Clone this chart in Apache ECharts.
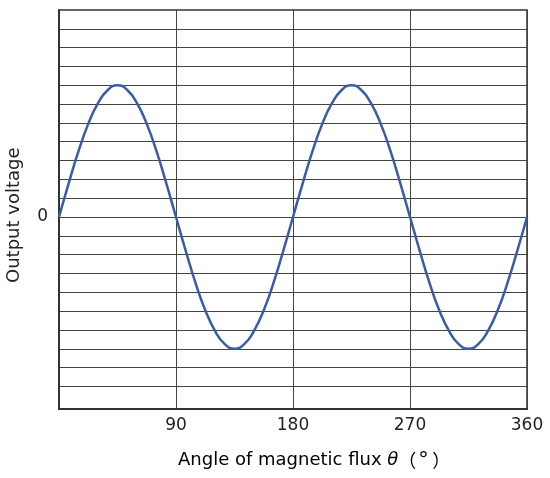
<!DOCTYPE html>
<html>
<head>
<meta charset="utf-8">
<script src="https://cdn.jsdelivr.net/npm/echarts@6/dist/echarts.min.js"></script>
<style>html,body{margin:0;padding:0;background:#fff;}#c{width:550px;height:478px;}</style>
</head>
<body>
<div id="c"></div>
<script>
// angle (degrees) and output voltage (grid units)
var angles = [0,7.5,15,22.5,30,37.5,45,52.5,60,67.5,75,82.5,90,
  97.5,105,112.5,120,127.5,135,142.5,150,157.5,165,172.5,180,
  187.5,195,202.5,210,217.5,225,232.5,240,247.5,255,262.5,270,
  277.5,285,292.5,300,307.5,315,322.5,330,337.5,345,352.5,360];
var voltage = [0,1.8,3.5,4.95,6.05,6.75,7,6.75,6.05,4.95,3.5,1.8,0,
  -1.8,-3.5,-4.95,-6.05,-6.75,-7,-6.75,-6.05,-4.95,-3.5,-1.8,0,
  1.8,3.5,4.95,6.05,6.75,7,6.75,6.05,4.95,3.5,1.8,0,
  -1.8,-3.5,-4.95,-6.05,-6.75,-7,-6.75,-6.05,-4.95,-3.5,-1.8,0];
var xTicks = [90,180,270,360];
var yTickLabels = [0];
var hGridValues = [-9,-8,-7,-6,-5,-4,-3,-2,-1,0,1,2,3,4,5,6,7,8,9,10];
var xTitleParts = ['Angle of magnetic flux ', 'θ', '（', '°', '）'];
var yTitle = 'Output voltage';

var chart = echarts.init(document.getElementById('c'), null, {renderer:'canvas'});
var font = 'DejaVu Sans';
chart.setOption({
  animation:false,
  grid:{left:59,right:23,top:10,bottom:69,show:true,borderColor:'#333',borderWidth:1.5,backgroundColor:'transparent'},
  xAxis:{
    type:'value',min:0,max:360,interval:90,
    axisLine:{show:true,onZero:false,lineStyle:{color:'#333',width:2}},
    axisTick:{show:false},
    axisLabel:{color:'#222',fontSize:17,fontFamily:font,margin:8,
      formatter:function(v){return xTicks.indexOf(v)>=0?String(v):'';}},
    splitLine:{show:true,lineStyle:{color:'#444',width:1}}
  },
  yAxis:{
    type:'value',min:-10.2,max:11,
    axisLine:{show:true,onZero:false,lineStyle:{color:'#333',width:2}},
    axisTick:{show:false},
    axisLabel:{show:true,customValues:yTickLabels,color:'#222',fontSize:17,fontFamily:font,margin:11},
    splitLine:{show:false}
  },
  graphic:[
    {type:'text',left:178,top:451,style:{
      text:'{a|'+xTitleParts[0]+'}{t|'+xTitleParts[1]+'}{p|'+xTitleParts[2]+'}{d|'+xTitleParts[3]+'}{p|'+xTitleParts[4]+'}',
      rich:{
        a:{fontSize:18,fontFamily:font,color:'#222'},
        t:{fontSize:18,fontFamily:font,fontStyle:'italic',color:'#222'},
        p:{fontSize:18,fontFamily:'Noto Sans CJK JP',color:'#222'},
        d:{fontSize:21,fontFamily:font,color:'#222',width:14,padding:[4,0,0,2]}
      }}},
    {type:'text',rotation:Math.PI/2,x:5,y:283,style:{text:yTitle,fontSize:18,fontFamily:font,fill:'#222'}}
  ],
  series:[
    {type:'line',data:[],z:1,silent:true,
      markLine:{silent:true,symbol:'none',animation:false,label:{show:false},
        lineStyle:{color:'#444',width:1,type:'solid'},
        data:hGridValues.map(function(v){return {yAxis:v};})}},
    {type:'line',z:5,smooth:true,symbol:'none',
      data:angles.map(function(a,i){return [a,voltage[i]];}),
      lineStyle:{color:'#3a5ca8',width:2.5}}
  ]
});
</script>
</body>
</html>
